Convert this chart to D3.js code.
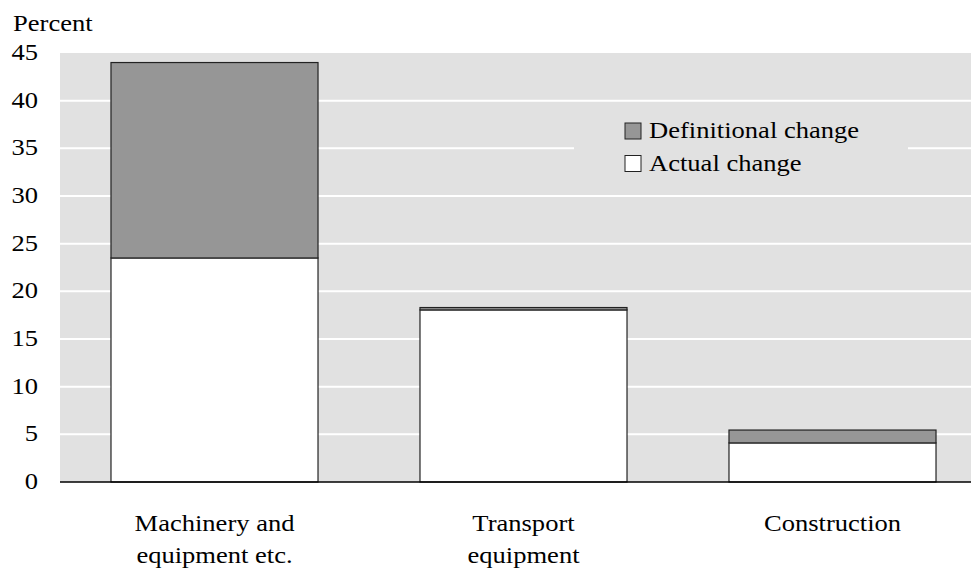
<!DOCTYPE html>
<html>
<head>
<meta charset="utf-8">
<script src="https://cdn.jsdelivr.net/npm/d3@7"></script>
<style>
  body { margin: 0; background: #fff; }
</style>
</head>
<body>
<div id="chart"></div>
<script>
// values
var categories = [["Machinery and", "equipment etc."], ["Transport", "equipment"], ["Construction"]];
var actual = [23.5, 18.05, 4.1];
var definitional = [20.5, 0.25, 1.35];
var yTicks = [0, 5, 10, 15, 20, 25, 30, 35, 40, 45];
var seriesNames = ["Definitional change", "Actual change"];

var W = 971, H = 570;
var margin = { top: 53, left: 60, bottom: 88 };
var plotRight = 987; // last band runs past the picture edge
var serif = "'Times New Roman', 'Liberation Serif', Times, serif";
var fs = "23.5px";
var stretch = 1.13; // the source text is a little wider than plain Times

function place(x, y) {
    return "translate(" + x + "," + y + ") scale(" + stretch + ",1)";
}

var svg = d3.select("#chart").append("svg")
    .attr("width", W)
    .attr("height", H)
    .style("font-family", serif);

var x = d3.scaleBand().domain(d3.range(categories.length))
    .range([margin.left, plotRight]).paddingInner(0.33).paddingOuter(0.165);
var y = d3.scaleLinear().domain([0, 45]).range([H - margin.bottom, margin.top]);

// plot background
svg.append("rect")
    .attr("x", margin.left).attr("y", y(45))
    .attr("width", W - margin.left).attr("height", y(0) - y(45))
    .attr("fill", "#e1e1e1");

// gridlines
svg.selectAll("line.grid")
    .data(yTicks.filter(function (d) { return d > 0 && d < 45; }))
    .join("line")
    .attr("class", "grid")
    .attr("x1", margin.left).attr("x2", W)
    .attr("y1", function (d) { return y(d); })
    .attr("y2", function (d) { return y(d); })
    .attr("stroke", "#fff")
    .attr("stroke-width", 2);

// y tick labels
svg.selectAll("text.ytick")
    .data(yTicks)
    .join("text")
    .attr("class", "ytick")
    .attr("transform", function (d) { return place(38, y(d) + 7); })
    .attr("text-anchor", "end")
    .style("font-size", fs)
    .text(function (d) { return d; });

svg.append("text")
    .attr("transform", place(13, 31))
    .style("font-size", fs)
    .text("Percent");

// stacked bars
var stacked = categories.map(function (c, i) {
    return { i: i, actual: actual[i], def: definitional[i] };
});

svg.selectAll("rect.actual")
    .data(stacked)
    .join("rect")
    .attr("class", "actual")
    .attr("x", function (d) { return x(d.i); })
    .attr("width", x.bandwidth())
    .attr("y", function (d) { return y(d.actual); })
    .attr("height", function (d) { return y(0) - y(d.actual); })
    .attr("fill", "#fff")
    .attr("stroke", "#222")
    .attr("stroke-width", 1.2);

svg.selectAll("rect.def")
    .data(stacked)
    .join("rect")
    .attr("class", "def")
    .attr("x", function (d) { return x(d.i); })
    .attr("width", x.bandwidth())
    .attr("y", function (d) { return y(d.actual + d.def); })
    .attr("height", function (d) { return y(d.actual) - y(d.actual + d.def); })
    .attr("fill", "#969696")
    .attr("stroke", "#222")
    .attr("stroke-width", 1.2);

// zero line
svg.append("line")
    .attr("x1", margin.left).attr("x2", W)
    .attr("y1", y(0)).attr("y2", y(0))
    .attr("stroke", "#000")
    .attr("stroke-width", 1.5);

// category labels
svg.selectAll("text.cat")
    .data(categories)
    .join("text")
    .attr("class", "cat")
    .attr("text-anchor", "middle")
    .attr("transform", function (d, i) { return place(x(i) + x.bandwidth() / 2, 531); })
    .style("font-size", fs)
    .each(function (lines) {
        var t = d3.select(this);
        lines.forEach(function (l, k) {
            t.append("tspan")
                .attr("x", 0)
                .attr("y", k * 32)
                .text(l);
        });
    });

// legend
var legend = svg.append("g");
legend.append("rect")
    .attr("x", 574).attr("y", 106)
    .attr("width", 334).attr("height", 84)
    .attr("fill", "#e1e1e1");

var legendFill = ["#969696", "#fff"];
seriesNames.forEach(function (name, k) {
    var ly = 123 + k * 32.5;
    legend.append("rect")
        .attr("x", 625).attr("y", ly)
        .attr("width", 16).attr("height", 16)
        .attr("fill", legendFill[k])
        .attr("stroke", "#222")
        .attr("stroke-width", 1);
    legend.append("text")
        .attr("transform", place(649, ly + 15))
        .style("font-size", fs)
        .text(name);
});
</script>
</body>
</html>
